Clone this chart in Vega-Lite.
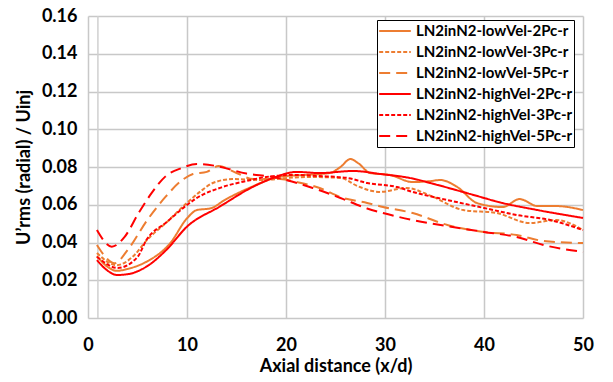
{
  "$schema": "https://vega.github.io/schema/vega-lite/v6.json",
  "width": 495,
  "height": 302,
  "autosize": {"type": "none"},
  "padding": {"left": 88, "top": 16, "right": 30, "bottom": 64},
  "background": "white",
  "config": {
    "view": {"stroke": null},
    "font": "Lato"
  },
  "layer": [
    {
      "data": {"values": [{"xg": 1}]},
      "mark": {"type": "rule", "color": "#d0d0d0", "strokeWidth": 1.5},
      "encoding": {
        "x": {"field": "xg", "type": "quantitative"}
      }
    },
    {
  "data": {"values": [
      {"series": "LN2inN2-lowVel-2Pc-r", "x": 0.9, "y": 0.0328},
      {"series": "LN2inN2-lowVel-2Pc-r", "x": 2.0, "y": 0.027},
      {"series": "LN2inN2-lowVel-2Pc-r", "x": 2.9, "y": 0.025},
      {"series": "LN2inN2-lowVel-2Pc-r", "x": 4.0, "y": 0.026},
      {"series": "LN2inN2-lowVel-2Pc-r", "x": 5.9, "y": 0.0298},
      {"series": "LN2inN2-lowVel-2Pc-r", "x": 8.3, "y": 0.0396},
      {"series": "LN2inN2-lowVel-2Pc-r", "x": 10.0, "y": 0.0528},
      {"series": "LN2inN2-lowVel-2Pc-r", "x": 11.0, "y": 0.0572},
      {"series": "LN2inN2-lowVel-2Pc-r", "x": 12.4, "y": 0.0581},
      {"series": "LN2inN2-lowVel-2Pc-r", "x": 13.8, "y": 0.0625},
      {"series": "LN2inN2-lowVel-2Pc-r", "x": 16.2, "y": 0.0687},
      {"series": "LN2inN2-lowVel-2Pc-r", "x": 19.5, "y": 0.0749},
      {"series": "LN2inN2-lowVel-2Pc-r", "x": 21.9, "y": 0.0758},
      {"series": "LN2inN2-lowVel-2Pc-r", "x": 24.4, "y": 0.0768},
      {"series": "LN2inN2-lowVel-2Pc-r", "x": 25.5, "y": 0.080},
      {"series": "LN2inN2-lowVel-2Pc-r", "x": 26.5, "y": 0.0842},
      {"series": "LN2inN2-lowVel-2Pc-r", "x": 27.3, "y": 0.082},
      {"series": "LN2inN2-lowVel-2Pc-r", "x": 28.5, "y": 0.0768},
      {"series": "LN2inN2-lowVel-2Pc-r", "x": 30.5, "y": 0.0758},
      {"series": "LN2inN2-lowVel-2Pc-r", "x": 32.8, "y": 0.072},
      {"series": "LN2inN2-lowVel-2Pc-r", "x": 34.5, "y": 0.0725},
      {"series": "LN2inN2-lowVel-2Pc-r", "x": 35.6, "y": 0.0731},
      {"series": "LN2inN2-lowVel-2Pc-r", "x": 37.3, "y": 0.0694},
      {"series": "LN2inN2-lowVel-2Pc-r", "x": 39.3, "y": 0.0609},
      {"series": "LN2inN2-lowVel-2Pc-r", "x": 41.9, "y": 0.0588},
      {"series": "LN2inN2-lowVel-2Pc-r", "x": 43.6, "y": 0.063},
      {"series": "LN2inN2-lowVel-2Pc-r", "x": 45.4, "y": 0.0593},
      {"series": "LN2inN2-lowVel-2Pc-r", "x": 47.3, "y": 0.0593},
      {"series": "LN2inN2-lowVel-2Pc-r", "x": 50.0, "y": 0.0572},

      {"series": "LN2inN2-lowVel-3Pc-r", "x": 0.9, "y": 0.0344},
      {"series": "LN2inN2-lowVel-3Pc-r", "x": 2.9, "y": 0.028},
      {"series": "LN2inN2-lowVel-3Pc-r", "x": 4.7, "y": 0.0334},
      {"series": "LN2inN2-lowVel-3Pc-r", "x": 5.9, "y": 0.041},
      {"series": "LN2inN2-lowVel-3Pc-r", "x": 8.0, "y": 0.051},
      {"series": "LN2inN2-lowVel-3Pc-r", "x": 10.0, "y": 0.061},
      {"series": "LN2inN2-lowVel-3Pc-r", "x": 11.3, "y": 0.0668},
      {"series": "LN2inN2-lowVel-3Pc-r", "x": 12.6, "y": 0.0715},
      {"series": "LN2inN2-lowVel-3Pc-r", "x": 14.6, "y": 0.0736},
      {"series": "LN2inN2-lowVel-3Pc-r", "x": 17.7, "y": 0.0731},
      {"series": "LN2inN2-lowVel-3Pc-r", "x": 20.1, "y": 0.0742},
      {"series": "LN2inN2-lowVel-3Pc-r", "x": 22.7, "y": 0.0747},
      {"series": "LN2inN2-lowVel-3Pc-r", "x": 25.5, "y": 0.0742},
      {"series": "LN2inN2-lowVel-3Pc-r", "x": 27.3, "y": 0.0697},
      {"series": "LN2inN2-lowVel-3Pc-r", "x": 29.5, "y": 0.0668},
      {"series": "LN2inN2-lowVel-3Pc-r", "x": 32.2, "y": 0.0689},
      {"series": "LN2inN2-lowVel-3Pc-r", "x": 34.5, "y": 0.065},
      {"series": "LN2inN2-lowVel-3Pc-r", "x": 37.9, "y": 0.0572},
      {"series": "LN2inN2-lowVel-3Pc-r", "x": 41.3, "y": 0.0556},
      {"series": "LN2inN2-lowVel-3Pc-r", "x": 44.6, "y": 0.0503},
      {"series": "LN2inN2-lowVel-3Pc-r", "x": 47.3, "y": 0.0519},
      {"series": "LN2inN2-lowVel-3Pc-r", "x": 50.0, "y": 0.0466},

      {"series": "LN2inN2-lowVel-5Pc-r", "x": 0.9, "y": 0.0387},
      {"series": "LN2inN2-lowVel-5Pc-r", "x": 2.7, "y": 0.029},
      {"series": "LN2inN2-lowVel-5Pc-r", "x": 4.0, "y": 0.036},
      {"series": "LN2inN2-lowVel-5Pc-r", "x": 6.0, "y": 0.052},
      {"series": "LN2inN2-lowVel-5Pc-r", "x": 7.8, "y": 0.064},
      {"series": "LN2inN2-lowVel-5Pc-r", "x": 9.5, "y": 0.073},
      {"series": "LN2inN2-lowVel-5Pc-r", "x": 10.6, "y": 0.0763},
      {"series": "LN2inN2-lowVel-5Pc-r", "x": 12.0, "y": 0.0774},
      {"series": "LN2inN2-lowVel-5Pc-r", "x": 13.2, "y": 0.0805},
      {"series": "LN2inN2-lowVel-5Pc-r", "x": 15.0, "y": 0.0768},
      {"series": "LN2inN2-lowVel-5Pc-r", "x": 16.7, "y": 0.0736},
      {"series": "LN2inN2-lowVel-5Pc-r", "x": 19.4, "y": 0.0736},
      {"series": "LN2inN2-lowVel-5Pc-r", "x": 21.1, "y": 0.072},
      {"series": "LN2inN2-lowVel-5Pc-r", "x": 23.4, "y": 0.0689},
      {"series": "LN2inN2-lowVel-5Pc-r", "x": 25.5, "y": 0.0641},
      {"series": "LN2inN2-lowVel-5Pc-r", "x": 28.2, "y": 0.0609},
      {"series": "LN2inN2-lowVel-5Pc-r", "x": 29.8, "y": 0.0588},
      {"series": "LN2inN2-lowVel-5Pc-r", "x": 32.8, "y": 0.0556},
      {"series": "LN2inN2-lowVel-5Pc-r", "x": 36.3, "y": 0.0493},
      {"series": "LN2inN2-lowVel-5Pc-r", "x": 40.0, "y": 0.0456},
      {"series": "LN2inN2-lowVel-5Pc-r", "x": 43.3, "y": 0.044},
      {"series": "LN2inN2-lowVel-5Pc-r", "x": 46.0, "y": 0.0408},
      {"series": "LN2inN2-lowVel-5Pc-r", "x": 50.0, "y": 0.0397},

      {"series": "LN2inN2-highVel-2Pc-r", "x": 0.9, "y": 0.0307},
      {"series": "LN2inN2-highVel-2Pc-r", "x": 2.0, "y": 0.025},
      {"series": "LN2inN2-highVel-2Pc-r", "x": 2.9, "y": 0.0228},
      {"series": "LN2inN2-highVel-2Pc-r", "x": 4.0, "y": 0.0232},
      {"series": "LN2inN2-highVel-2Pc-r", "x": 5.9, "y": 0.0272},
      {"series": "LN2inN2-highVel-2Pc-r", "x": 7.9, "y": 0.036},
      {"series": "LN2inN2-highVel-2Pc-r", "x": 10.0, "y": 0.0484},
      {"series": "LN2inN2-highVel-2Pc-r", "x": 13.3, "y": 0.059},
      {"series": "LN2inN2-highVel-2Pc-r", "x": 16.7, "y": 0.0696},
      {"series": "LN2inN2-highVel-2Pc-r", "x": 18.7, "y": 0.0742},
      {"series": "LN2inN2-highVel-2Pc-r", "x": 21.1, "y": 0.0774},
      {"series": "LN2inN2-highVel-2Pc-r", "x": 23.4, "y": 0.0768},
      {"series": "LN2inN2-highVel-2Pc-r", "x": 26.8, "y": 0.0779},
      {"series": "LN2inN2-highVel-2Pc-r", "x": 29.5, "y": 0.0763},
      {"series": "LN2inN2-highVel-2Pc-r", "x": 32.5, "y": 0.0742},
      {"series": "LN2inN2-highVel-2Pc-r", "x": 35.3, "y": 0.0705},
      {"series": "LN2inN2-highVel-2Pc-r", "x": 38.6, "y": 0.0657},
      {"series": "LN2inN2-highVel-2Pc-r", "x": 41.9, "y": 0.0609},
      {"series": "LN2inN2-highVel-2Pc-r", "x": 45.4, "y": 0.0572},
      {"series": "LN2inN2-highVel-2Pc-r", "x": 50.0, "y": 0.053},

      {"series": "LN2inN2-highVel-3Pc-r", "x": 0.9, "y": 0.0325},
      {"series": "LN2inN2-highVel-3Pc-r", "x": 3.0, "y": 0.0265},
      {"series": "LN2inN2-highVel-3Pc-r", "x": 5.0, "y": 0.0323},
      {"series": "LN2inN2-highVel-3Pc-r", "x": 5.9, "y": 0.0413},
      {"series": "LN2inN2-highVel-3Pc-r", "x": 8.0, "y": 0.051},
      {"series": "LN2inN2-highVel-3Pc-r", "x": 10.0, "y": 0.0599},
      {"series": "LN2inN2-highVel-3Pc-r", "x": 11.0, "y": 0.0636},
      {"series": "LN2inN2-highVel-3Pc-r", "x": 13.6, "y": 0.0694},
      {"series": "LN2inN2-highVel-3Pc-r", "x": 16.0, "y": 0.0726},
      {"series": "LN2inN2-highVel-3Pc-r", "x": 18.0, "y": 0.0747},
      {"series": "LN2inN2-highVel-3Pc-r", "x": 20.7, "y": 0.0758},
      {"series": "LN2inN2-highVel-3Pc-r", "x": 23.4, "y": 0.0752},
      {"series": "LN2inN2-highVel-3Pc-r", "x": 26.2, "y": 0.0742},
      {"series": "LN2inN2-highVel-3Pc-r", "x": 28.2, "y": 0.0715},
      {"series": "LN2inN2-highVel-3Pc-r", "x": 31.2, "y": 0.0694},
      {"series": "LN2inN2-highVel-3Pc-r", "x": 32.8, "y": 0.0668},
      {"series": "LN2inN2-highVel-3Pc-r", "x": 36.3, "y": 0.0625},
      {"series": "LN2inN2-highVel-3Pc-r", "x": 40.0, "y": 0.0583},
      {"series": "LN2inN2-highVel-3Pc-r", "x": 43.3, "y": 0.0546},
      {"series": "LN2inN2-highVel-3Pc-r", "x": 46.7, "y": 0.0519},
      {"series": "LN2inN2-highVel-3Pc-r", "x": 50.0, "y": 0.0466},

      {"series": "LN2inN2-highVel-5Pc-r", "x": 0.9, "y": 0.0466},
      {"series": "LN2inN2-highVel-5Pc-r", "x": 2.4, "y": 0.0378},
      {"series": "LN2inN2-highVel-5Pc-r", "x": 3.7, "y": 0.043},
      {"series": "LN2inN2-highVel-5Pc-r", "x": 5.1, "y": 0.0555},
      {"series": "LN2inN2-highVel-5Pc-r", "x": 6.4, "y": 0.066},
      {"series": "LN2inN2-highVel-5Pc-r", "x": 7.8, "y": 0.0749},
      {"series": "LN2inN2-highVel-5Pc-r", "x": 9.5, "y": 0.0795},
      {"series": "LN2inN2-highVel-5Pc-r", "x": 11.0, "y": 0.0816},
      {"series": "LN2inN2-highVel-5Pc-r", "x": 13.0, "y": 0.0805},
      {"series": "LN2inN2-highVel-5Pc-r", "x": 16.0, "y": 0.0765},
      {"series": "LN2inN2-highVel-5Pc-r", "x": 18.7, "y": 0.0747},
      {"series": "LN2inN2-highVel-5Pc-r", "x": 20.1, "y": 0.073},
      {"series": "LN2inN2-highVel-5Pc-r", "x": 22.7, "y": 0.0689},
      {"series": "LN2inN2-highVel-5Pc-r", "x": 25.5, "y": 0.0636},
      {"series": "LN2inN2-highVel-5Pc-r", "x": 28.2, "y": 0.058},
      {"series": "LN2inN2-highVel-5Pc-r", "x": 29.8, "y": 0.0556},
      {"series": "LN2inN2-highVel-5Pc-r", "x": 32.8, "y": 0.0519},
      {"series": "LN2inN2-highVel-5Pc-r", "x": 36.3, "y": 0.0487},
      {"series": "LN2inN2-highVel-5Pc-r", "x": 40.0, "y": 0.0456},
      {"series": "LN2inN2-highVel-5Pc-r", "x": 43.3, "y": 0.0429},
      {"series": "LN2inN2-highVel-5Pc-r", "x": 46.0, "y": 0.0387},
      {"series": "LN2inN2-highVel-5Pc-r", "x": 50.0, "y": 0.035}
  ]},
  "mark": {"type": "line", "strokeWidth": 2, "interpolate": "monotone"},
  "encoding": {
    "x": {
      "field": "x",
      "type": "quantitative",
      "scale": {"domain": [0, 50], "nice": false, "zero": false},
      "axis": {
        "title": "Axial distance (x/d)",
        "values": [0, 10, 20, 30, 40, 50],
        "format": "d",
        "grid": true,
        "gridColor": "#c8c8c8",
        "gridWidth": 1.5,
        "domain": false,
        "ticks": false,
        "labelFlush": false,
        "labelOverlap": false,
        "labelPadding": 18,
        "labelFont": "Lato",
        "labelFontSize": 18,
        "labelFontWeight": "bold",
        "labelColor": "#000000",
        "titleFont": "Lato",
        "titleFontSize": 18,
        "titleFontWeight": "bold",
        "titleColor": "#000000",
        "titlePadding": 3
      }
    },
    "y": {
      "field": "y",
      "type": "quantitative",
      "scale": {"domain": [0, 0.16], "nice": false},
      "axis": {
        "title": "U’rms (radial) / Uinj",
        "values": [0, 0.02, 0.04, 0.06, 0.08, 0.1, 0.12, 0.14, 0.16],
        "format": ".2f",
        "grid": true,
        "gridColor": "#c8c8c8",
        "gridWidth": 1.5,
        "domain": false,
        "ticks": false,
        "labelFlush": false,
        "labelOverlap": false,
        "labelPadding": 11,
        "labelFont": "Lato",
        "labelFontSize": 18,
        "labelFontWeight": "bold",
        "labelColor": "#000000",
        "titleFont": "Lato",
        "titleFontSize": 18,
        "titleFontWeight": "bold",
        "titleColor": "#000000",
        "titlePadding": 8
      }
    },
    "color": {
      "field": "series",
      "type": "nominal",
      "sort": null,
      "scale": {
        "domain": ["LN2inN2-lowVel-2Pc-r", "LN2inN2-lowVel-3Pc-r", "LN2inN2-lowVel-5Pc-r", "LN2inN2-highVel-2Pc-r", "LN2inN2-highVel-3Pc-r", "LN2inN2-highVel-5Pc-r"],
        "range": ["#ED7D31", "#ED7D31", "#ED7D31", "#FF0000", "#FF0000", "#FF0000"]
      },
      "legend": {
        "title": null,
        "orient": "none",
        "legendX": 289,
        "legendY": 4,
        "fillColor": "white",
        "strokeColor": "#000000",
        "padding": 1,
        "symbolType": "stroke",
        "symbolSize": 1000,
        "symbolStrokeWidth": 2,
        "labelFont": "Lato",
        "labelFontSize": 15,
        "labelFontWeight": "bold",
        "labelColor": "#000000",
        "labelOffset": 4,
        "labelLimit": 300,
        "clipHeight": 20,
        "rowPadding": 1
      }
    },
    "strokeDash": {
      "field": "series",
      "type": "nominal",
      "sort": null,
      "scale": {
        "domain": ["LN2inN2-lowVel-2Pc-r", "LN2inN2-lowVel-3Pc-r", "LN2inN2-lowVel-5Pc-r", "LN2inN2-highVel-2Pc-r", "LN2inN2-highVel-3Pc-r", "LN2inN2-highVel-5Pc-r"],
        "range": [[1, 0], [4, 2], [11, 6], [1, 0], [4, 2], [11, 6]]
      }
    }
  }
    }
  ]
}
